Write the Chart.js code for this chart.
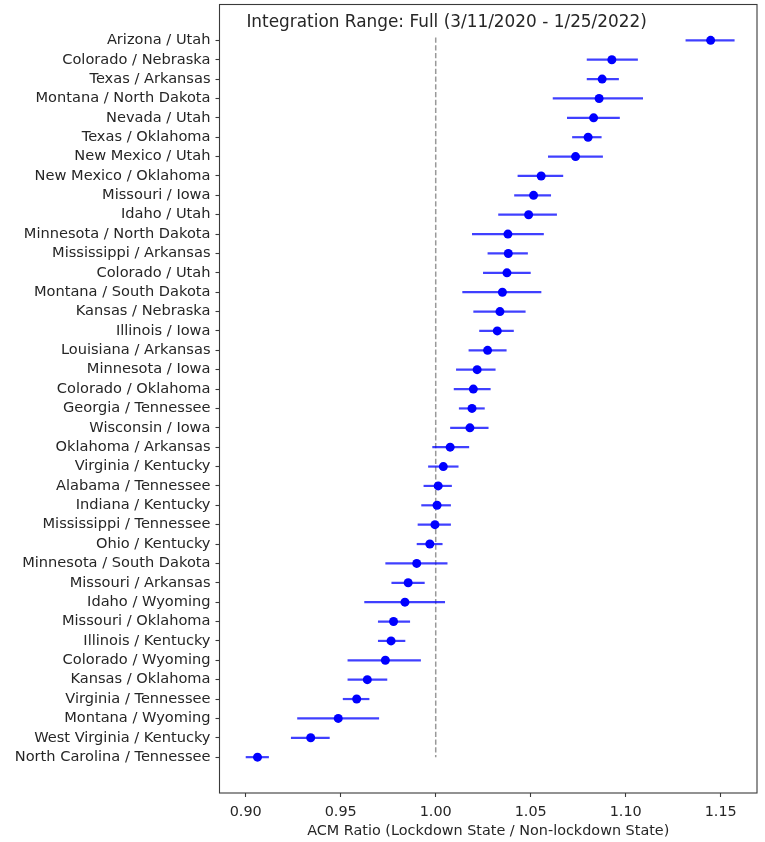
<!DOCTYPE html>
<html>
<head>
<meta charset="utf-8">
<script src="https://cdn.jsdelivr.net/npm/chart.js@4.4.1/dist/chart.umd.min.js"></script>
<style>
  html, body { margin: 0; padding: 0; background: #ffffff; }
  #wrap { position: relative; width: 765px; height: 842px; }
</style>
</head>
<body>
<div id="wrap"><canvas id="c"></canvas></div>
<script>
const categories = [
  "Arizona / Utah", "Colorado / Nebraska", "Texas / Arkansas", "Montana / North Dakota",
  "Nevada / Utah", "Texas / Oklahoma", "New Mexico / Utah", "New Mexico / Oklahoma",
  "Missouri / Iowa", "Idaho / Utah", "Minnesota / North Dakota", "Mississippi / Arkansas",
  "Colorado / Utah", "Montana / South Dakota", "Kansas / Nebraska", "Illinois / Iowa",
  "Louisiana / Arkansas", "Minnesota / Iowa", "Colorado / Oklahoma", "Georgia / Tennessee",
  "Wisconsin / Iowa", "Oklahoma / Arkansas", "Virginia / Kentucky", "Alabama / Tennessee",
  "Indiana / Kentucky", "Mississippi / Tennessee", "Ohio / Kentucky", "Minnesota / South Dakota",
  "Missouri / Arkansas", "Idaho / Wyoming", "Missouri / Oklahoma", "Illinois / Kentucky",
  "Colorado / Wyoming", "Kansas / Oklahoma", "Virginia / Tennessee", "Montana / Wyoming",
  "West Virginia / Kentucky", "North Carolina / Tennessee"
];
const ratios = [
  1.1447, 1.0927, 1.0876, 1.0860, 1.0831, 1.0802, 1.0736, 1.0555,
  1.0515, 1.0489, 1.0380, 1.0382, 1.0375, 1.0351, 1.0338, 1.0324,
  1.0273, 1.0218, 1.0198, 1.0191, 1.0180, 1.0076, 1.0040, 1.0013,
  1.0007, 0.9996, 0.9969, 0.9900, 0.9855, 0.9838, 0.9778, 0.9765,
  0.9735, 0.9640, 0.9584, 0.9487, 0.9342, 0.9062
];
const lowerBounds = [
  1.1315, 1.0795, 1.0795, 1.0616, 1.0691, 1.0718, 1.0591, 1.0431,
  1.0413, 1.0329, 1.0191, 1.0273, 1.0249, 1.0140, 1.0198, 1.0229,
  1.0173, 1.0107, 1.0095, 1.0122, 1.0076, 0.9982, 0.9960, 0.9936,
  0.9924, 0.9905, 0.9900, 0.9735, 0.9767, 0.9624, 0.9696, 0.9696,
  0.9536, 0.9536, 0.9511, 0.9271, 0.9238, 0.9000
];
const upperBounds = [
  1.1573, 1.1064, 1.0964, 1.1091, 1.0969, 1.0873, 1.0880, 1.0671,
  1.0607, 1.0638, 1.0569, 1.0485, 1.0500, 1.0556, 1.0473, 1.0411,
  1.0373, 1.0315, 1.0289, 1.0258, 1.0278, 1.0176, 1.0120, 1.0085,
  1.0080, 1.0080, 1.0036, 1.0062, 0.9942, 1.0049, 0.9865, 0.9840,
  0.9922, 0.9745, 0.9651, 0.9702, 0.9442, 0.9122
];
const xTickValues = [0.90, 0.95, 1.00, 1.05, 1.10, 1.15];
const referenceValue = 1.0;
const xTitle = "ACM Ratio (Lockdown State / Non-lockdown State)";
const panelTitle = "Integration Range: Full (3/11/2020 - 1/25/2022)";

const FONT = "'DejaVu Sans', sans-serif";
const TEXT = "#262626";
const SPINE = "#3a3a3a";

const decorations = {
  id: 'decorations',
  beforeDatasetsDraw(chart) {
    const { ctx, scales: { x, y } } = chart;
    ctx.save();
    const xr = x.getPixelForValue(referenceValue);
    ctx.strokeStyle = 'rgba(128,128,128,0.8)';
    ctx.lineWidth = 1.5;
    ctx.setLineDash([5.3, 2.5]);
    ctx.beginPath();
    ctx.moveTo(xr, y.getPixelForValue(-0.15));
    ctx.lineTo(xr, y.getPixelForValue(categories.length - 1));
    ctx.stroke();
    ctx.setLineDash([]);
    ctx.strokeStyle = 'rgba(0,0,255,0.75)';
    ctx.lineWidth = 2.2;
    for (let i = 0; i < categories.length; i++) {
      const py = y.getPixelForValue(i);
      ctx.beginPath();
      ctx.moveTo(x.getPixelForValue(lowerBounds[i]), py);
      ctx.lineTo(x.getPixelForValue(upperBounds[i]), py);
      ctx.stroke();
    }
    ctx.restore();
  },
  afterDraw(chart) {
    const { ctx, chartArea: a } = chart;
    ctx.save();
    ctx.strokeStyle = SPINE;
    ctx.lineWidth = 1.1;
    ctx.strokeRect(a.left, a.top, a.right - a.left, a.bottom - a.top);
    ctx.fillStyle = TEXT;
    ctx.font = "16.9px " + FONT;
    ctx.textAlign = 'left';
    ctx.textBaseline = 'middle';
    ctx.fillText(panelTitle, a.left + 0.05 * (a.right - a.left), a.top + 18.5);
    ctx.restore();
  }
};

new Chart(document.getElementById('c'), {
  type: 'scatter',
  data: {
    datasets: [{
      data: ratios.map((v, i) => ({ x: v, y: i })),
      backgroundColor: '#0000ff',
      borderColor: '#0000ff',
      borderWidth: 0,
      pointRadius: 4.5,
      pointHoverRadius: 4.5
    }]
  },
  options: {
    responsive: true,
    maintainAspectRatio: false,
    animation: false,
    layout: { padding: { top: 2, right: 8, left: 0, bottom: 0 } },
    plugins: { legend: { display: false }, tooltip: { enabled: false } },
    scales: {
      x: {
        type: 'linear',
        min: 0.8862,
        max: 1.1691,
        afterBuildTicks: (s) => { s.ticks = xTickValues.map(v => ({ value: v })); },
        afterFit: (s) => { s.height = 49; s.paddingLeft = 0; s.paddingRight = 0; },
        ticks: {
          callback: (v) => Number(v).toFixed(2),
          font: { family: FONT, size: 14.4 },
          color: TEXT,
          padding: 7,
          maxRotation: 0
        },
        grid: { drawOnChartArea: false, drawTicks: true, tickLength: 4, tickColor: SPINE, tickWidth: 1.1 },
        border: { display: false },
        title: {
          display: true,
          text: xTitle,
          font: { family: FONT, size: 14.4 },
          color: TEXT,
          padding: { top: 0, bottom: 2.5 }
        }
      },
      y: {
        type: 'linear',
        reverse: true,
        min: -1.85,
        max: categories.length - 1 + 1.85,
        afterBuildTicks: (s) => { s.ticks = categories.map((c, i) => ({ value: i })); },
        afterFit: (s) => { s.width = 219.5; s.paddingTop = 0; s.paddingBottom = 0; },
        ticks: {
          autoSkip: false,
          callback: (v) => categories[v],
          font: { family: FONT, size: 14.6 },
          color: TEXT,
          padding: 5
        },
        grid: { drawOnChartArea: false, drawTicks: true, tickLength: 4, tickColor: SPINE, tickWidth: 1.1 },
        border: { display: false }
      }
    }
  },
  plugins: [decorations]
});
</script>
</body>
</html>
